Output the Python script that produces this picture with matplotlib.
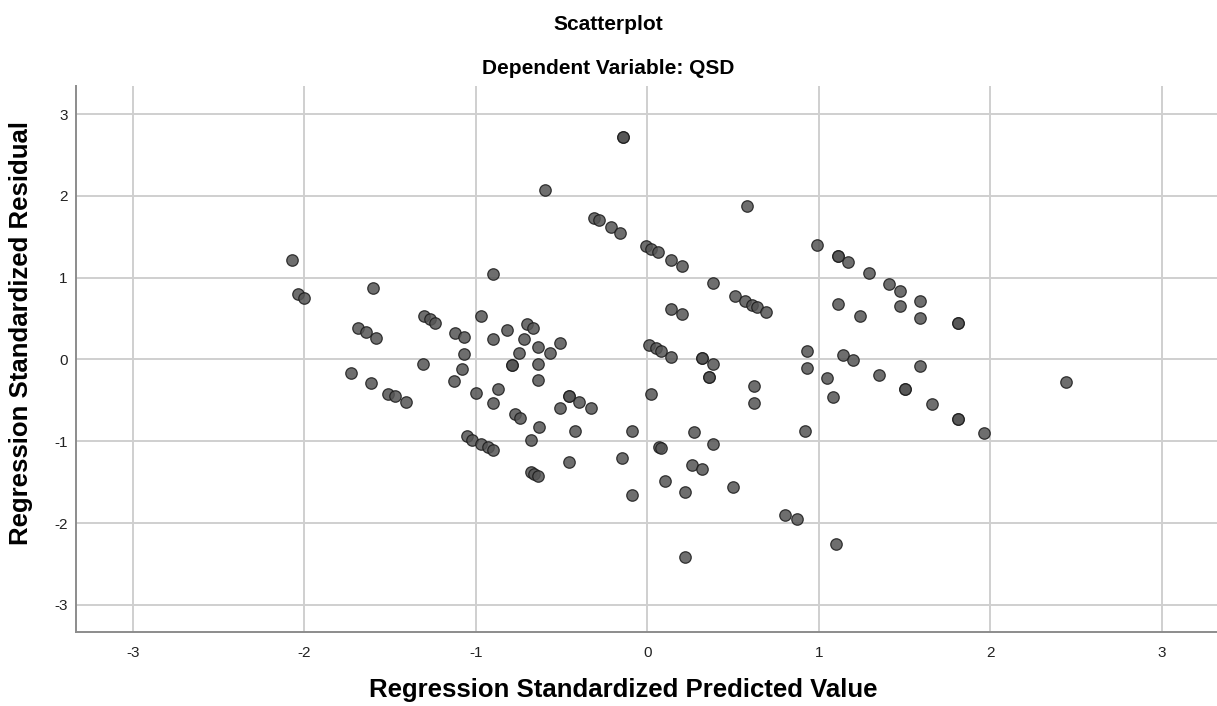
import numpy as np
from matplotlib import pyplot as plt

plt.rcParams['font.family'] = ['Liberation Sans', 'DejaVu Sans']
plt.rcParams['axes.unicode_minus'] = False

# standardized predicted value (x) and standardized residual (y)
pred = [-2.07, -2.04, -2.00, -1.60, -1.69, -1.64, -1.58, -1.73, -1.61, -1.51,
        -1.47, -1.41, -1.30, -1.27, -1.24, -1.31, -1.12, -1.07, -1.07, -1.08,
        -1.13, -0.97, -0.90, -0.90, -1.00, -0.87, -0.90, -1.05, -1.02, -0.97,
        -0.93, -0.90, -0.82, -0.70, -0.67, -0.72, -0.75, -0.79, -0.64, -0.57,
        -0.51, -0.64, -0.64, -0.77, -0.74, -0.63, -0.68, -0.68, -0.66, -0.64,
        -0.51, -0.46, -0.46, -0.14, -0.60, 0.58, -0.31, -0.28, -0.21, -0.16,
        -0.01, 0.02, 0.06, 0.14, 0.20, 0.38, 0.51, 0.57, 0.61, 0.64,
        0.69, 0.14, 0.20, 0.01, 0.05, 0.08, 0.14, 0.32, 0.38, 0.36,
        0.62, 0.62, 0.02, -0.40, -0.33, -0.42, -0.09, 0.27, 0.38, 0.07,
        -0.15, 0.26, 0.32, 0.10, 0.50, 0.22, -0.09, 0.99, 1.11, 1.17,
        1.29, 1.41, 1.47, 1.59, 1.11, 1.24, 1.47, 1.59, 0.93, 0.93,
        1.14, 1.20, 1.05, 1.08, 1.35, 1.50, 1.59, 1.66, 0.92, 0.80,
        0.87, 1.81, 1.81, 1.96, 1.10, 2.44, 0.22,
        # overlapping duplicates
        -0.14, -0.79, 0.08, 1.11, 1.81, 1.81, 1.50, 0.32, -0.46, 0.36]
resid = [1.22, 0.80, 0.75, 0.87, 0.39, 0.33, 0.26, -0.16, -0.29, -0.42,
         -0.45, -0.52, 0.53, 0.49, 0.45, -0.05, 0.32, 0.27, 0.07, -0.12,
         -0.26, 0.53, 1.05, 0.25, -0.41, -0.36, -0.53, -0.94, -0.98, -1.03,
         -1.07, -1.11, 0.36, 0.43, 0.39, 0.25, 0.08, -0.07, 0.15, 0.08,
         0.20, -0.05, -0.25, -0.67, -0.72, -0.83, -0.98, -1.38, -1.40, -1.42,
         -0.59, -0.45, -1.25, 2.72, 2.07, 1.88, 1.73, 1.70, 1.62, 1.55,
         1.39, 1.35, 1.31, 1.21, 1.14, 0.93, 0.78, 0.71, 0.67, 0.64,
         0.58, 0.62, 0.55, 0.18, 0.14, 0.10, 0.03, 0.02, -0.05, -0.21,
         -0.33, -0.53, -0.42, -0.52, -0.59, -0.88, -0.87, -0.89, -1.03, -1.07,
         -1.21, -1.29, -1.34, -1.48, -1.56, -1.62, -1.66, 1.40, 1.27, 1.19,
         1.06, 0.92, 0.84, 0.72, 0.68, 0.53, 0.65, 0.51, 0.10, -0.10,
         0.06, -0.01, -0.23, -0.46, -0.19, -0.36, -0.08, -0.55, -0.87, -1.90,
         -1.95, 0.45, -0.73, -0.90, -2.26, -0.28, -2.41,
         2.72, -0.07, -1.08, 1.27, 0.45, -0.73, -0.36, 0.02, -0.45, -0.21]

ticks = [-3, -2, -1, 0, 1, 2, 3]

fig = plt.figure(figsize=(12.17, 7.06), dpi=100)
ax = fig.add_axes([0.0624, 0.1048, 0.9376, 0.7734])

ax.scatter(pred, resid, s=68, facecolor='#555555', edgecolor='#1a1a1a',
           linewidth=0.9, alpha=0.85, zorder=3)

ax.set_xlim(-3.332, 3.321)
ax.set_ylim(-3.331, 3.343)
ax.set_xticks(ticks)
ax.set_yticks(ticks)
ax.grid(True, color='#cfcfcf', linewidth=1.4, zorder=0)
ax.set_axisbelow(True)

for side in ['top', 'right']:
    ax.spines[side].set_visible(False)
for side in ['left', 'bottom']:
    ax.spines[side].set_color('#8c8c8c')
    ax.spines[side].set_linewidth(1.4)

ax.tick_params(length=0, labelsize=11, colors='#222222')
ax.tick_params(axis='y', pad=6)
ax.tick_params(axis='x', pad=10)

fig.text(0.5, 1 - 24 / 706, 'Scatterplot', ha='center', va='center',
         fontsize=15, fontweight='bold')
fig.text(0.5, 1 - 69 / 706, 'Dependent Variable: QSD', ha='center', va='center',
         fontsize=15, fontweight='bold')

fig.text(623 / 1217, 1 - 690 / 706, 'Regression Standardized Predicted Value',
         ha='center', va='center', fontsize=18.5, fontweight='bold')
fig.text(21 / 1217, 1 - 333 / 706, 'Regression Standardized Residual',
         ha='center', va='center', rotation=90, fontsize=18.5, fontweight='bold')

fig.savefig('out.png', dpi=100)
